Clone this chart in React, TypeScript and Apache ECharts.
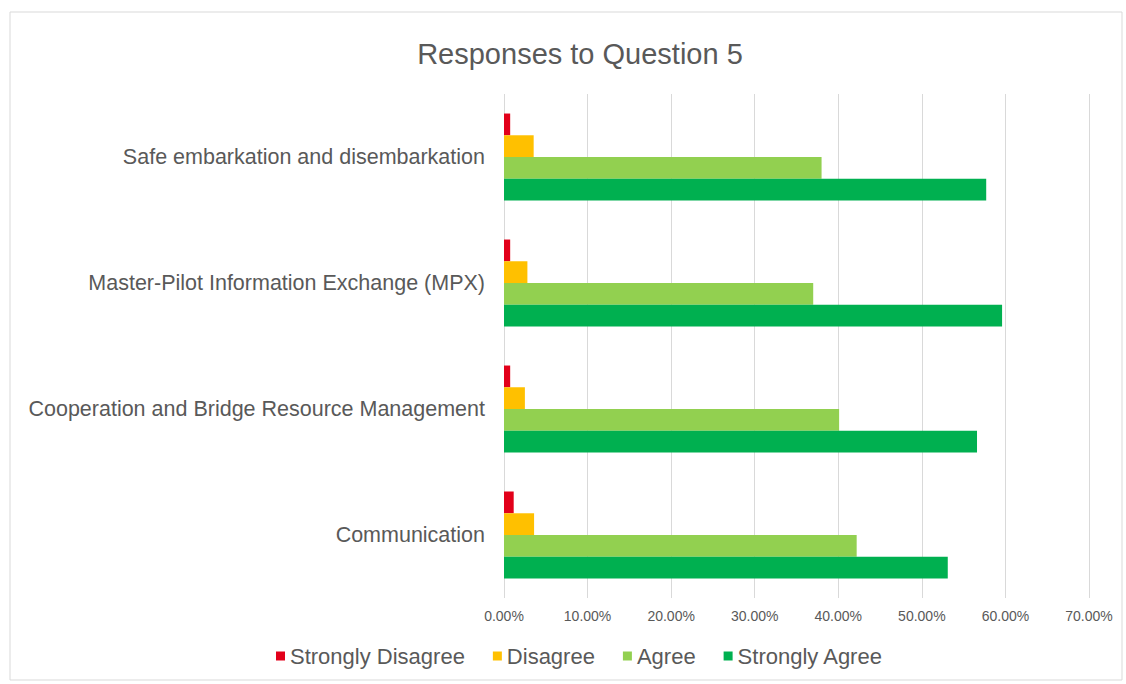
import React, { useEffect, useRef } from "react";
import * as echarts from "echarts";

const categories = [
  "Communication",
  "Cooperation and Bridge Resource Management",
  "Master-Pilot Information Exchange (MPX)",
  "Safe embarkation and disembarkation",
];
const seriesNames = ["Strongly Disagree", "Disagree", "Agree", "Strongly Agree"];
const stronglyDisagree = [1.16, 0.74, 0.74, 0.74];
const disagree = [3.6, 2.5, 2.8, 3.55];
const agree = [42.2, 40.1, 37.0, 38.0];
const stronglyAgree = [53.1, 56.6, 59.6, 57.7];
const colors = ["#E2001A", "#FFC000", "#92D050", "#00B050"];
const axisMax = 70;
const axisInterval = 10;

export default function App() {
  const ref = useRef<HTMLDivElement>(null);
  useEffect(() => {
    if (!ref.current) return;
    const chart = echarts.init(ref.current, null, { renderer: "svg" });
    const values = [stronglyDisagree, disagree, agree, stronglyAgree];
    const font = "'Liberation Sans', Arial, sans-serif";
    chart.setOption({
      animation: false,
      backgroundColor: "#ffffff",
      title: {
        text: "Responses to Question 5",
        left: 575,
        textAlign: "center",
        top: 34,
        textStyle: { fontSize: 29, fontWeight: "normal", color: "#595959", fontFamily: font },
      },
      graphic: [
        {
          type: "rect",
          shape: { x: 10, y: 12, width: 1112, height: 668 },
          style: { fill: "none", stroke: "#D9D9D9", lineWidth: 1 },
          silent: true,
        },
      ],
      legend: {
        data: seriesNames,
        bottom: 12,
        left: 271,
        icon: "rect",
        itemWidth: 9,
        itemHeight: 9,
        itemGap: 28,
        textStyle: { fontSize: 22, color: "#595959", fontFamily: font },
      },
      grid: { left: 504, right: 37, top: 94, bottom: 86, containLabel: false },
      xAxis: {
        type: "value",
        min: 0,
        max: axisMax,
        interval: axisInterval,
        axisLine: { show: false },
        axisTick: { show: false },
        splitLine: { show: true, lineStyle: { color: "#D9D9D9", width: 1 } },
        axisLabel: {
          formatter: (v: number) => `${v.toFixed(2)}%`,
          fontSize: 14,
          color: "#595959",
          margin: 11,
          fontFamily: font,
        },
      },
      yAxis: {
        type: "category",
        data: categories,
        axisLine: { show: false },
        axisTick: { show: false },
        axisLabel: { fontSize: 21.5, color: "#595959", margin: 19, fontFamily: font },
      },
      series: seriesNames.map((name, i) => ({
        name,
        type: "bar",
        data: values[i],
        barGap: "0%",
        barCategoryGap: "31%",
        itemStyle: { color: colors[i] },
      })),
    });
    return () => chart.dispose();
  }, []);
  return (
    <div
      ref={ref}
      style={{ position: "absolute", left: 0, top: 0, width: 1126, height: 684 }}
    />
  );
}
